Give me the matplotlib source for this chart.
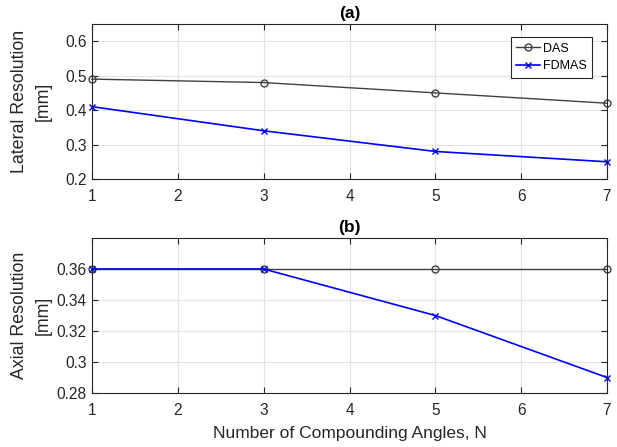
import matplotlib
matplotlib.use('Agg')
import matplotlib.pyplot as plt

plt.rcParams['font.family'] = ['Liberation Sans', 'DejaVu Sans']

# data
angles = [1, 3, 5, 7]
lateral_das = [0.49, 0.48, 0.45, 0.42]
lateral_fdmas = [0.41, 0.34, 0.28, 0.25]
axial_das = [0.36, 0.36, 0.36, 0.36]
axial_fdmas = [0.36, 0.36, 0.33, 0.29]

das_color = '#404040'
fdmas_color = '#0000ff'
text_color = '#262626'

W, H = 617, 447
fig = plt.figure(figsize=(W / 100, H / 100), dpi=100)
# axes boxes in pixels: left, top, right, bottom
ax1 = fig.add_axes([92 / W, 1 - 179 / H, (607 - 92) / W, (179 - 24) / H])
ax2 = fig.add_axes([92 / W, 1 - 393 / H, (607 - 92) / W, (393 - 238) / H])


def style(ax):
    ax.set_xlim(1, 7)
    ax.set_xticks(range(1, 8))
    ax.grid(True, color='#e3e3e3', linewidth=0.8)
    ax.set_axisbelow(True)
    ax.tick_params(direction='in', top=True, right=True, labelsize=11.2,
                   length=4, colors=text_color, labelcolor=text_color)
    ax.tick_params(axis='x', pad=7)
    ax.tick_params(axis='y', pad=4)
    ax.yaxis.set_label_coords(-0.078, 0.5)
    for s in ax.spines.values():
        s.set_color(text_color)
        s.set_linewidth(0.8)


ax1.plot(angles, lateral_das, color=das_color, marker='o', markersize=5,
         markerfacecolor='none', linewidth=1.0, label='DAS', clip_on=False)
ax1.plot(angles, lateral_fdmas, color=fdmas_color, marker='x', markersize=5,
         linewidth=1.2, label='FDMAS', clip_on=False)
ax1.set_ylim(0.2, 0.65)
ax1.set_yticks([0.2, 0.3, 0.4, 0.5, 0.6])
ax1.set_yticklabels(['0.2', '0.3', '0.4', '0.5', '0.6'])
ax1.set_ylabel('Lateral Resolution\n[mm]', fontsize=12.8, color=text_color,
               linespacing=1.5)
ax1.set_title('(a)', fontsize=12.5, fontweight='bold', pad=4)
style(ax1)
leg = ax1.legend(loc='upper right', bbox_to_anchor=(0.971, 0.916), fontsize=9,
                 fancybox=False, framealpha=1, edgecolor=text_color,
                 handlelength=1.9, handletextpad=0.2, borderpad=0.45,
                 labelspacing=0.45, borderaxespad=0)
leg.get_frame().set_linewidth(0.8)

ax2.plot(angles, axial_das, color=das_color, marker='o', markersize=5,
         markerfacecolor='none', linewidth=1.0, clip_on=False)
ax2.plot(angles, axial_fdmas, color=fdmas_color, marker='x', markersize=5,
         linewidth=1.2, clip_on=False)
ax2.set_ylim(0.28, 0.38)
ax2.set_yticks([0.28, 0.3, 0.32, 0.34, 0.36])
ax2.set_yticklabels(['0.28', '0.3', '0.32', '0.34', '0.36'])
ax2.set_ylabel('Axial Resolution\n[mm]', fontsize=12.8, color=text_color,
               linespacing=1.5)
ax2.set_xlabel('Number of Compounding Angles, N', fontsize=12.5, color=text_color,
               labelpad=6)
ax2.set_title('(b)', fontsize=12.5, fontweight='bold', pad=4)
style(ax2)

fig.savefig('out.png', dpi=100)
